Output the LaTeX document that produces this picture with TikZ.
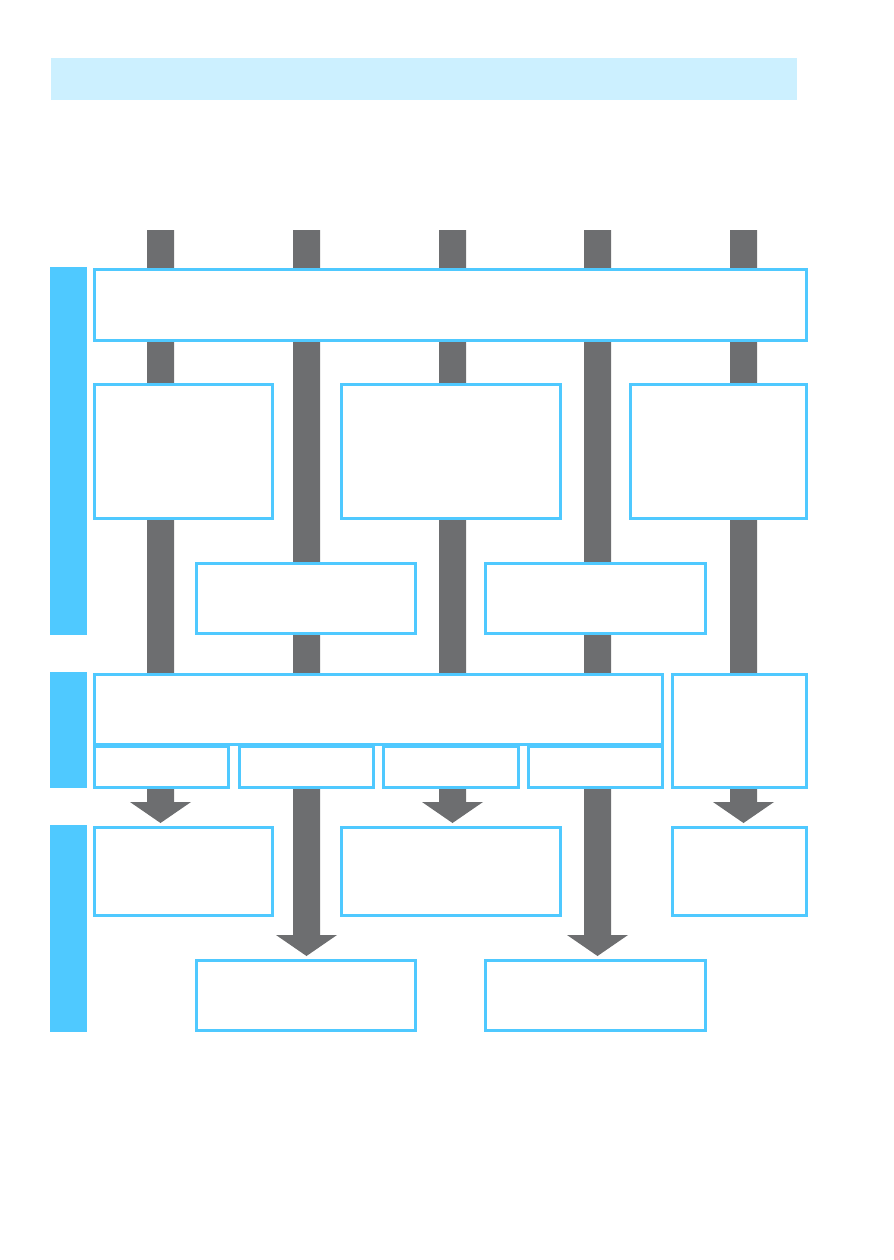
\documentclass[tikz,border=0pt]{standalone}
\usepackage{tikz}
\definecolor{cblue}{HTML}{4FC9FF}
\definecolor{cgray}{HTML}{6D6E70}
\definecolor{cband}{HTML}{CCF0FF}
\newcommand\mybox[5]{% name, x1, y1, x2, y2 (outer pixel edges)
  \node[bx, minimum width={(#4-#2-3)*0.5pt}, minimum height={(#5-#3-3)*0.5pt}]
    (#1) at ({(#2+#4)/2},{(#3+#5)/2}) {};}
\newcommand\mybar[4]{% name, center x, top y, head y
  \coordinate (#1top) at (#2,#3);
  \coordinate (#1tip) at (#2,#4+21);
  \fill[cgray] ($(#1top)+(-13.5,0)$) -- ($(#1top)+(13.5,0)$) -- (#2+13.5,#4) -- (#2+30.5,#4)
     -- (#1tip) -- (#2-30.5,#4) -- (#2-13.5,#4) -- cycle;}
\usetikzlibrary{calc}
\tikzset{
  bx/.style={draw=cblue, line width=1.5pt, fill=white, inner sep=0pt, outer sep=0pt},
  side/.style={fill=cblue},
}
\begin{document}
\begin{tikzpicture}[x=0.5pt,y=-0.5pt]
\useasboundingbox (0,0) rectangle (894,1260);
% top band
\fill[cband] (51,58) rectangle (797,100);
% side bars
\fill[side] (50,267) rectangle (87,635);
\fill[side] (50,672) rectangle (87,788);
\fill[side] (50,825) rectangle (87,1032);
% gray bars with arrow heads
\mybar{b1}{160.5}{230}{802}
\mybar{b2}{306.5}{230}{935}
\mybar{b3}{452.5}{230}{802}
\mybar{b4}{597.5}{230}{935}
\mybar{b5}{743.5}{230}{802}
% boxes
\mybox{top}{93}{268}{808}{342}
\mybox{ra}{93}{383}{274}{520}
\mybox{rb}{340}{383}{562}{520}
\mybox{rc}{629}{383}{808}{520}
\mybox{sa}{195}{562}{417}{635}
\mybox{sb}{484}{562}{707}{635}
\mybox{big}{93}{673}{664}{746}
\mybox{ua}{93}{745}{230}{789}
\mybox{ub}{238}{745}{375}{789}
\mybox{uc}{382}{745}{520}{789}
\mybox{ud}{527}{745}{664}{789}
\mybox{rt}{671}{673}{808}{789}
\mybox{la}{93}{826}{274}{917}
\mybox{lb}{340}{826}{562}{917}
\mybox{lc}{671}{826}{808}{917}
\mybox{ma}{195}{959}{417}{1032}
\mybox{mb}{484}{959}{707}{1032}
\end{tikzpicture}
\end{document}
